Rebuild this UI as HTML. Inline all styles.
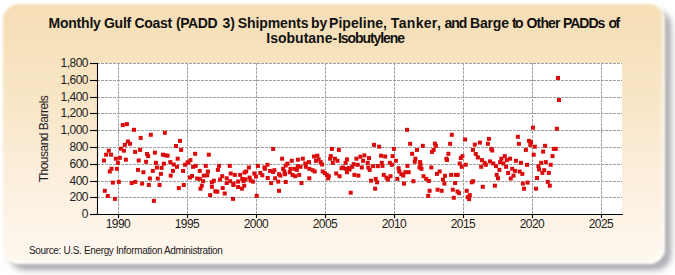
<!DOCTYPE html>
<html><head><meta charset="utf-8"><style>
html,body{margin:0;padding:0;background:#fff;width:675px;height:275px;overflow:hidden;position:relative;font-family:"Liberation Sans",sans-serif;}
.card{position:absolute;left:3px;top:4px;width:662px;height:260px;border-radius:16px;filter:blur(0.9px);
background:linear-gradient(to bottom,#F6DEB6 0%,#F8E5C4 33%,#FCEFDE 68%,#FEF6EC 92%,#FFF8EF 100%);
box-shadow:6px 6px 4px rgba(115,115,122,0.45), 7px 7px 8px rgba(160,160,168,0.3), inset -3px -3px 3px rgba(255,255,255,0.65);}
.t1,.t2{position:absolute;font-weight:bold;font-size:14px;line-height:16px;color:#111;white-space:nowrap;}
.t1{top:15px;}
.t2{top:30px;}
.yl{position:absolute;left:38px;width:50px;text-align:right;font-size:12px;line-height:16px;color:#222;letter-spacing:-0.5px;}
.xl{position:absolute;top:217px;width:40px;text-align:center;font-size:12px;line-height:14px;color:#222;letter-spacing:-0.55px;}
.ylab{position:absolute;left:43.5px;top:138.5px;width:0;height:0;}
.ylab span{position:absolute;transform:translate(-50%,-50%) rotate(-90deg);white-space:nowrap;font-size:12px;letter-spacing:-0.5px;color:#222;}
.src{position:absolute;left:29px;top:245px;font-size:10px;letter-spacing:-0.35px;color:#222;white-space:nowrap;}
svg{position:absolute;left:0;top:0;}
</style></head><body>
<div class="card"></div>
<svg width="675" height="275">
<rect x="97" y="63" width="525" height="151" fill="#fff"/>
<g stroke="#A0A0A0" stroke-width="1" stroke-dasharray="3,1"><line x1="98" y1="197.5" x2="622" y2="197.5" stroke-dashoffset="1"/><line x1="98" y1="181.5" x2="622" y2="181.5" stroke-dashoffset="1"/><line x1="98" y1="164.5" x2="622" y2="164.5" stroke-dashoffset="1"/><line x1="98" y1="147.5" x2="622" y2="147.5" stroke-dashoffset="1"/><line x1="98" y1="130.5" x2="622" y2="130.5" stroke-dashoffset="1"/><line x1="98" y1="113.5" x2="622" y2="113.5" stroke-dashoffset="1"/><line x1="98" y1="97.5" x2="622" y2="97.5" stroke-dashoffset="1"/><line x1="98" y1="80.5" x2="622" y2="80.5" stroke-dashoffset="1"/><line x1="98" y1="63.5" x2="622" y2="63.5" stroke-dashoffset="1"/><line x1="118.5" y1="63" x2="118.5" y2="214"/><line x1="187.5" y1="63" x2="187.5" y2="214"/><line x1="256.5" y1="63" x2="256.5" y2="214"/><line x1="325.5" y1="63" x2="325.5" y2="214"/><line x1="394.5" y1="63" x2="394.5" y2="214"/><line x1="463.5" y1="63" x2="463.5" y2="214"/><line x1="532.5" y1="63" x2="532.5" y2="214"/><line x1="601.5" y1="63" x2="601.5" y2="214"/></g>
<g fill="#DC0A0A"><rect x="120.8" y="123.0" width="4" height="4"/><rect x="124.9" y="122.1" width="4" height="4"/><rect x="132.0" y="127.8" width="4" height="4"/><rect x="138.7" y="135.9" width="4" height="4"/><rect x="148.8" y="132.8" width="4" height="4"/><rect x="162.9" y="130.8" width="4" height="4"/><rect x="178.0" y="138.9" width="4" height="4"/><rect x="174.0" y="144.0" width="4" height="4"/><rect x="179.1" y="147.9" width="4" height="4"/><rect x="125.9" y="139.5" width="4" height="4"/><rect x="128.0" y="141.8" width="4" height="4"/><rect x="122.8" y="142.9" width="4" height="4"/><rect x="119.0" y="146.7" width="4" height="4"/><rect x="121.9" y="148.7" width="4" height="4"/><rect x="133.1" y="149.9" width="4" height="4"/><rect x="138.1" y="147.9" width="4" height="4"/><rect x="106.8" y="148.7" width="4" height="4"/><rect x="104.1" y="152.7" width="4" height="4"/><rect x="109.1" y="152.7" width="4" height="4"/><rect x="102.0" y="158.5" width="4" height="4"/><rect x="113.8" y="156.7" width="4" height="4"/><rect x="117.9" y="155.8" width="4" height="4"/><rect x="115.9" y="160.8" width="4" height="4"/><rect x="123.9" y="157.7" width="4" height="4"/><rect x="145.0" y="152.0" width="4" height="4"/><rect x="146.1" y="154.1" width="4" height="4"/><rect x="152.9" y="150.7" width="4" height="4"/><rect x="160.9" y="152.7" width="4" height="4"/><rect x="165.6" y="153.7" width="4" height="4"/><rect x="175.7" y="156.7" width="4" height="4"/><rect x="136.7" y="158.5" width="4" height="4"/><rect x="144.1" y="159.8" width="4" height="4"/><rect x="153.9" y="160.8" width="4" height="4"/><rect x="161.9" y="161.7" width="4" height="4"/><rect x="168.3" y="160.1" width="4" height="4"/><rect x="171.7" y="162.5" width="4" height="4"/><rect x="175.0" y="164.8" width="4" height="4"/><rect x="183.1" y="162.8" width="4" height="4"/><rect x="109.5" y="166.8" width="4" height="4"/><rect x="107.8" y="169.5" width="4" height="4"/><rect x="114.9" y="166.8" width="4" height="4"/><rect x="136.0" y="167.9" width="4" height="4"/><rect x="141.4" y="170.2" width="4" height="4"/><rect x="154.9" y="165.5" width="4" height="4"/><rect x="159.6" y="165.9" width="4" height="4"/><rect x="150.8" y="168.9" width="4" height="4"/><rect x="158.9" y="171.9" width="4" height="4"/><rect x="171.0" y="168.9" width="4" height="4"/><rect x="181.1" y="168.9" width="4" height="4"/><rect x="168.7" y="173.6" width="4" height="4"/><rect x="147.9" y="176.5" width="4" height="4"/><rect x="155.8" y="176.5" width="4" height="4"/><rect x="110.9" y="180.6" width="4" height="4"/><rect x="116.8" y="179.9" width="4" height="4"/><rect x="129.7" y="181.0" width="4" height="4"/><rect x="133.3" y="179.9" width="4" height="4"/><rect x="140.1" y="181.6" width="4" height="4"/><rect x="146.8" y="183.0" width="4" height="4"/><rect x="157.6" y="183.0" width="4" height="4"/><rect x="176.8" y="186.1" width="4" height="4"/><rect x="181.8" y="183.0" width="4" height="4"/><rect x="102.8" y="188.8" width="4" height="4"/><rect x="105.8" y="194.0" width="4" height="4"/><rect x="112.9" y="196.9" width="4" height="4"/><rect x="151.9" y="198.9" width="4" height="4"/><rect x="271.1" y="146.9" width="4" height="4"/><rect x="193.1" y="151.8" width="4" height="4"/><rect x="206.8" y="152.7" width="4" height="4"/><rect x="188.4" y="158.1" width="4" height="4"/><rect x="191.1" y="164.8" width="4" height="4"/><rect x="193.7" y="163.9" width="4" height="4"/><rect x="203.8" y="163.9" width="4" height="4"/><rect x="217.0" y="163.9" width="4" height="4"/><rect x="227.8" y="163.9" width="4" height="4"/><rect x="197.8" y="168.9" width="4" height="4"/><rect x="205.9" y="169.5" width="4" height="4"/><rect x="215.9" y="167.9" width="4" height="4"/><rect x="190.0" y="174.0" width="4" height="4"/><rect x="201.8" y="173.6" width="4" height="4"/><rect x="205.2" y="173.3" width="4" height="4"/><rect x="195.1" y="176.5" width="4" height="4"/><rect x="197.8" y="176.9" width="4" height="4"/><rect x="201.1" y="179.2" width="4" height="4"/><rect x="209.9" y="180.3" width="4" height="4"/><rect x="211.9" y="178.7" width="4" height="4"/><rect x="218.0" y="177.6" width="4" height="4"/><rect x="220.2" y="174.2" width="4" height="4"/><rect x="224.7" y="176.3" width="4" height="4"/><rect x="228.7" y="171.5" width="4" height="4"/><rect x="232.8" y="172.9" width="4" height="4"/><rect x="228.1" y="179.2" width="4" height="4"/><rect x="224.7" y="181.0" width="4" height="4"/><rect x="231.4" y="181.6" width="4" height="4"/><rect x="236.1" y="179.6" width="4" height="4"/><rect x="238.1" y="172.9" width="4" height="4"/><rect x="240.2" y="176.9" width="4" height="4"/><rect x="243.5" y="177.3" width="4" height="4"/><rect x="247.6" y="175.6" width="4" height="4"/><rect x="250.9" y="179.6" width="4" height="4"/><rect x="244.2" y="169.5" width="4" height="4"/><rect x="246.9" y="165.5" width="4" height="4"/><rect x="252.3" y="171.5" width="4" height="4"/><rect x="255.9" y="163.9" width="4" height="4"/><rect x="258.3" y="170.9" width="4" height="4"/><rect x="260.3" y="173.3" width="4" height="4"/><rect x="262.4" y="165.5" width="4" height="4"/><rect x="265.5" y="162.8" width="4" height="4"/><rect x="268.1" y="168.9" width="4" height="4"/><rect x="272.4" y="168.2" width="4" height="4"/><rect x="265.7" y="176.0" width="4" height="4"/><rect x="273.1" y="176.3" width="4" height="4"/><rect x="269.1" y="181.0" width="4" height="4"/><rect x="199.8" y="183.7" width="4" height="4"/><rect x="198.5" y="186.7" width="4" height="4"/><rect x="209.9" y="184.8" width="4" height="4"/><rect x="208.1" y="193.1" width="4" height="4"/><rect x="213.3" y="189.3" width="4" height="4"/><rect x="215.3" y="189.7" width="4" height="4"/><rect x="220.7" y="186.1" width="4" height="4"/><rect x="222.7" y="191.5" width="4" height="4"/><rect x="231.4" y="183.0" width="4" height="4"/><rect x="236.1" y="185.0" width="4" height="4"/><rect x="239.9" y="186.7" width="4" height="4"/><rect x="242.2" y="183.7" width="4" height="4"/><rect x="231.0" y="196.9" width="4" height="4"/><rect x="254.7" y="193.8" width="4" height="4"/><rect x="329.9" y="146.9" width="4" height="4"/><rect x="336.9" y="147.9" width="4" height="4"/><rect x="280.1" y="156.7" width="4" height="4"/><rect x="289.8" y="158.8" width="4" height="4"/><rect x="295.9" y="157.7" width="4" height="4"/><rect x="300.8" y="156.7" width="4" height="4"/><rect x="312.0" y="154.5" width="4" height="4"/><rect x="315.4" y="153.7" width="4" height="4"/><rect x="316.7" y="157.4" width="4" height="4"/><rect x="314.0" y="158.8" width="4" height="4"/><rect x="318.7" y="160.1" width="4" height="4"/><rect x="320.1" y="162.5" width="4" height="4"/><rect x="307.0" y="160.1" width="4" height="4"/><rect x="303.3" y="161.5" width="4" height="4"/><rect x="285.5" y="161.7" width="4" height="4"/><rect x="283.7" y="163.5" width="4" height="4"/><rect x="281.1" y="166.8" width="4" height="4"/><rect x="282.4" y="169.5" width="4" height="4"/><rect x="277.0" y="172.2" width="4" height="4"/><rect x="278.4" y="173.6" width="4" height="4"/><rect x="283.1" y="172.2" width="4" height="4"/><rect x="288.5" y="166.8" width="4" height="4"/><rect x="292.5" y="166.8" width="4" height="4"/><rect x="295.9" y="164.1" width="4" height="4"/><rect x="298.5" y="164.8" width="4" height="4"/><rect x="294.9" y="167.9" width="4" height="4"/><rect x="287.8" y="170.2" width="4" height="4"/><rect x="290.5" y="172.9" width="4" height="4"/><rect x="293.2" y="174.2" width="4" height="4"/><rect x="297.2" y="172.9" width="4" height="4"/><rect x="303.9" y="164.8" width="4" height="4"/><rect x="307.3" y="166.8" width="4" height="4"/><rect x="310.7" y="168.2" width="4" height="4"/><rect x="312.7" y="169.5" width="4" height="4"/><rect x="307.3" y="176.3" width="4" height="4"/><rect x="320.7" y="169.5" width="4" height="4"/><rect x="322.8" y="171.1" width="4" height="4"/><rect x="324.8" y="172.9" width="4" height="4"/><rect x="326.8" y="174.2" width="4" height="4"/><rect x="326.1" y="176.3" width="4" height="4"/><rect x="328.8" y="154.1" width="4" height="4"/><rect x="328.1" y="156.7" width="4" height="4"/><rect x="332.9" y="156.7" width="4" height="4"/><rect x="335.5" y="158.8" width="4" height="4"/><rect x="330.8" y="160.8" width="4" height="4"/><rect x="345.0" y="157.4" width="4" height="4"/><rect x="343.6" y="160.8" width="4" height="4"/><rect x="339.6" y="166.2" width="4" height="4"/><rect x="343.6" y="166.8" width="4" height="4"/><rect x="347.6" y="167.5" width="4" height="4"/><rect x="350.3" y="164.8" width="4" height="4"/><rect x="351.7" y="162.1" width="4" height="4"/><rect x="354.4" y="156.7" width="4" height="4"/><rect x="358.4" y="154.7" width="4" height="4"/><rect x="362.4" y="153.4" width="4" height="4"/><rect x="361.1" y="158.8" width="4" height="4"/><rect x="355.7" y="162.8" width="4" height="4"/><rect x="359.8" y="165.5" width="4" height="4"/><rect x="334.2" y="171.5" width="4" height="4"/><rect x="337.6" y="174.2" width="4" height="4"/><rect x="345.0" y="170.2" width="4" height="4"/><rect x="352.4" y="172.9" width="4" height="4"/><rect x="356.4" y="173.6" width="4" height="4"/><rect x="276.3" y="179.6" width="4" height="4"/><rect x="283.7" y="180.0" width="4" height="4"/><rect x="299.5" y="181.0" width="4" height="4"/><rect x="277.0" y="188.8" width="4" height="4"/><rect x="348.7" y="190.7" width="4" height="4"/><rect x="405.0" y="127.8" width="4" height="4"/><rect x="449.8" y="132.8" width="4" height="4"/><rect x="372.0" y="142.9" width="4" height="4"/><rect x="377.1" y="144.7" width="4" height="4"/><rect x="391.9" y="146.9" width="4" height="4"/><rect x="408.1" y="141.8" width="4" height="4"/><rect x="415.0" y="147.9" width="4" height="4"/><rect x="420.8" y="143.8" width="4" height="4"/><rect x="432.9" y="141.6" width="4" height="4"/><rect x="433.9" y="143.8" width="4" height="4"/><rect x="431.6" y="147.9" width="4" height="4"/><rect x="430.0" y="149.9" width="4" height="4"/><rect x="448.1" y="141.8" width="4" height="4"/><rect x="410.1" y="151.8" width="4" height="4"/><rect x="446.4" y="151.8" width="4" height="4"/><rect x="444.4" y="156.7" width="4" height="4"/><rect x="379.1" y="153.7" width="4" height="4"/><rect x="383.2" y="154.5" width="4" height="4"/><rect x="390.6" y="154.1" width="4" height="4"/><rect x="367.0" y="156.1" width="4" height="4"/><rect x="365.7" y="160.8" width="4" height="4"/><rect x="366.3" y="165.5" width="4" height="4"/><rect x="367.7" y="167.9" width="4" height="4"/><rect x="371.1" y="164.1" width="4" height="4"/><rect x="375.8" y="164.1" width="4" height="4"/><rect x="379.8" y="160.8" width="4" height="4"/><rect x="380.5" y="163.9" width="4" height="4"/><rect x="387.9" y="160.8" width="4" height="4"/><rect x="389.9" y="162.8" width="4" height="4"/><rect x="393.9" y="158.8" width="4" height="4"/><rect x="413.4" y="156.7" width="4" height="4"/><rect x="412.8" y="159.8" width="4" height="4"/><rect x="418.1" y="160.1" width="4" height="4"/><rect x="417.5" y="165.5" width="4" height="4"/><rect x="419.5" y="166.8" width="4" height="4"/><rect x="405.4" y="163.9" width="4" height="4"/><rect x="396.6" y="166.2" width="4" height="4"/><rect x="397.3" y="169.5" width="4" height="4"/><rect x="399.3" y="172.2" width="4" height="4"/><rect x="401.3" y="173.6" width="4" height="4"/><rect x="403.3" y="170.2" width="4" height="4"/><rect x="406.7" y="170.2" width="4" height="4"/><rect x="429.3" y="165.5" width="4" height="4"/><rect x="437.6" y="169.5" width="4" height="4"/><rect x="435.0" y="171.9" width="4" height="4"/><rect x="443.0" y="173.8" width="4" height="4"/><rect x="449.1" y="172.9" width="4" height="4"/><rect x="453.8" y="172.9" width="4" height="4"/><rect x="381.8" y="172.9" width="4" height="4"/><rect x="384.5" y="175.6" width="4" height="4"/><rect x="388.5" y="174.2" width="4" height="4"/><rect x="385.9" y="177.6" width="4" height="4"/><rect x="369.0" y="178.7" width="4" height="4"/><rect x="373.7" y="176.9" width="4" height="4"/><rect x="375.1" y="180.3" width="4" height="4"/><rect x="395.3" y="176.9" width="4" height="4"/><rect x="402.0" y="181.6" width="4" height="4"/><rect x="411.4" y="179.2" width="4" height="4"/><rect x="421.5" y="174.2" width="4" height="4"/><rect x="424.2" y="176.9" width="4" height="4"/><rect x="426.9" y="178.9" width="4" height="4"/><rect x="441.0" y="177.6" width="4" height="4"/><rect x="442.4" y="181.6" width="4" height="4"/><rect x="453.1" y="181.0" width="4" height="4"/><rect x="373.1" y="186.7" width="4" height="4"/><rect x="427.6" y="188.8" width="4" height="4"/><rect x="435.6" y="187.7" width="4" height="4"/><rect x="439.7" y="188.8" width="4" height="4"/><rect x="450.8" y="187.7" width="4" height="4"/><rect x="426.2" y="193.8" width="4" height="4"/><rect x="451.8" y="195.8" width="4" height="4"/><rect x="531.0" y="125.7" width="4" height="4"/><rect x="463.1" y="137.5" width="4" height="4"/><rect x="472.8" y="142.6" width="4" height="4"/><rect x="477.9" y="140.6" width="4" height="4"/><rect x="470.9" y="147.9" width="4" height="4"/><rect x="486.9" y="136.9" width="4" height="4"/><rect x="485.9" y="141.8" width="4" height="4"/><rect x="489.3" y="146.9" width="4" height="4"/><rect x="490.2" y="148.5" width="4" height="4"/><rect x="515.9" y="134.8" width="4" height="4"/><rect x="516.9" y="141.8" width="4" height="4"/><rect x="527.0" y="138.9" width="4" height="4"/><rect x="529.0" y="140.0" width="4" height="4"/><rect x="528.3" y="142.9" width="4" height="4"/><rect x="532.8" y="144.7" width="4" height="4"/><rect x="523.9" y="147.9" width="4" height="4"/><rect x="541.1" y="149.6" width="4" height="4"/><rect x="543.1" y="143.8" width="4" height="4"/><rect x="460.4" y="154.1" width="4" height="4"/><rect x="458.8" y="156.1" width="4" height="4"/><rect x="457.7" y="161.5" width="4" height="4"/><rect x="459.7" y="164.8" width="4" height="4"/><rect x="463.7" y="162.8" width="4" height="4"/><rect x="455.7" y="172.9" width="4" height="4"/><rect x="473.8" y="152.0" width="4" height="4"/><rect x="475.9" y="155.4" width="4" height="4"/><rect x="479.9" y="158.1" width="4" height="4"/><rect x="482.6" y="160.8" width="4" height="4"/><rect x="479.2" y="164.8" width="4" height="4"/><rect x="483.9" y="162.8" width="4" height="4"/><rect x="488.0" y="159.4" width="4" height="4"/><rect x="491.3" y="161.5" width="4" height="4"/><rect x="494.0" y="164.1" width="4" height="4"/><rect x="497.4" y="167.9" width="4" height="4"/><rect x="498.1" y="160.1" width="4" height="4"/><rect x="499.4" y="156.7" width="4" height="4"/><rect x="502.8" y="154.1" width="4" height="4"/><rect x="501.4" y="161.5" width="4" height="4"/><rect x="504.1" y="164.8" width="4" height="4"/><rect x="508.1" y="156.7" width="4" height="4"/><rect x="504.8" y="158.1" width="4" height="4"/><rect x="513.9" y="158.8" width="4" height="4"/><rect x="518.9" y="160.8" width="4" height="4"/><rect x="525.0" y="162.8" width="4" height="4"/><rect x="531.7" y="152.7" width="4" height="4"/><rect x="494.7" y="172.9" width="4" height="4"/><rect x="496.0" y="176.3" width="4" height="4"/><rect x="506.1" y="170.9" width="4" height="4"/><rect x="510.2" y="166.8" width="4" height="4"/><rect x="512.9" y="168.9" width="4" height="4"/><rect x="511.5" y="173.6" width="4" height="4"/><rect x="508.8" y="176.5" width="4" height="4"/><rect x="517.6" y="169.5" width="4" height="4"/><rect x="520.3" y="171.9" width="4" height="4"/><rect x="471.1" y="179.2" width="4" height="4"/><rect x="469.8" y="180.3" width="4" height="4"/><rect x="520.9" y="181.6" width="4" height="4"/><rect x="525.6" y="180.6" width="4" height="4"/><rect x="535.0" y="176.0" width="4" height="4"/><rect x="536.4" y="164.1" width="4" height="4"/><rect x="537.1" y="167.5" width="4" height="4"/><rect x="539.1" y="160.8" width="4" height="4"/><rect x="540.4" y="170.9" width="4" height="4"/><rect x="542.2" y="168.2" width="4" height="4"/><rect x="543.8" y="160.1" width="4" height="4"/><rect x="455.5" y="189.5" width="4" height="4"/><rect x="457.0" y="191.1" width="4" height="4"/><rect x="464.7" y="188.8" width="4" height="4"/><rect x="467.8" y="193.1" width="4" height="4"/><rect x="465.8" y="195.1" width="4" height="4"/><rect x="467.1" y="197.1" width="4" height="4"/><rect x="480.8" y="184.8" width="4" height="4"/><rect x="492.9" y="183.7" width="4" height="4"/><rect x="522.0" y="186.7" width="4" height="4"/><rect x="534.0" y="186.7" width="4" height="4"/><rect x="556.0" y="76.0" width="4" height="4"/><rect x="557.0" y="98.0" width="4" height="4"/><rect x="554.9" y="126.8" width="4" height="4"/><rect x="551.8" y="146.9" width="4" height="4"/><rect x="553.8" y="146.9" width="4" height="4"/><rect x="550.5" y="154.1" width="4" height="4"/><rect x="548.7" y="162.8" width="4" height="4"/><rect x="546.8" y="170.9" width="4" height="4"/><rect x="545.8" y="179.9" width="4" height="4"/><rect x="547.8" y="183.7" width="4" height="4"/><rect x="186.5" y="160.5" width="4" height="4"/><rect x="242.5" y="170.5" width="4" height="4"/><rect x="254.0" y="174.5" width="4" height="4"/><rect x="263.0" y="166.8" width="4" height="4"/><rect x="271.0" y="170.0" width="4" height="4"/><rect x="241.5" y="179.0" width="4" height="4"/><rect x="248.5" y="178.5" width="4" height="4"/><rect x="188.0" y="175.5" width="4" height="4"/><rect x="185.5" y="160.5" width="4" height="4"/><rect x="163.5" y="153.3" width="4" height="4"/><rect x="341.0" y="165.5" width="4" height="4"/><rect x="347.0" y="166.0" width="4" height="4"/><rect x="418.5" y="162.8" width="4" height="4"/><rect x="445.0" y="158.0" width="4" height="4"/></g>
<g stroke="#000" stroke-width="1.1"><line x1="90" y1="214.5" x2="98" y2="214.5"/><line x1="90" y1="197.5" x2="98" y2="197.5"/><line x1="90" y1="181.5" x2="98" y2="181.5"/><line x1="90" y1="164.5" x2="98" y2="164.5"/><line x1="90" y1="147.5" x2="98" y2="147.5"/><line x1="90" y1="130.5" x2="98" y2="130.5"/><line x1="90" y1="113.5" x2="98" y2="113.5"/><line x1="90" y1="97.5" x2="98" y2="97.5"/><line x1="90" y1="80.5" x2="98" y2="80.5"/><line x1="90" y1="63.5" x2="98" y2="63.5"/><line x1="118.5" y1="214" x2="118.5" y2="218"/><line x1="187.5" y1="214" x2="187.5" y2="218"/><line x1="256.5" y1="214" x2="256.5" y2="218"/><line x1="325.5" y1="214" x2="325.5" y2="218"/><line x1="394.5" y1="214" x2="394.5" y2="218"/><line x1="463.5" y1="214" x2="463.5" y2="218"/><line x1="532.5" y1="214" x2="532.5" y2="218"/><line x1="601.5" y1="214" x2="601.5" y2="218"/>
<line x1="97.5" y1="63" x2="97.5" y2="215"/>
<line x1="97" y1="214.5" x2="623" y2="214.5"/></g>
</svg>
<span class="t1" style="left:48.5px;letter-spacing:-0.22px">Monthly</span><span class="t1" style="left:103.9px;letter-spacing:-0.20px">Gulf</span><span class="t1" style="left:134.4px;letter-spacing:-0.30px">Coast</span><span class="t1" style="left:175.9px;letter-spacing:-0.40px">(PADD</span><span class="t1" style="left:222.4px;letter-spacing:0.00px">3)</span><span class="t1" style="left:237.8px;letter-spacing:-0.11px">Shipments</span><span class="t1" style="left:311.0px;letter-spacing:-0.10px">by</span><span class="t1" style="left:329.0px;letter-spacing:0.05px">Pipeline,</span><span class="t1" style="left:390.8px;letter-spacing:0.33px">Tanker,</span><span class="t1" style="left:444.5px;letter-spacing:-1.00px">and</span><span class="t1" style="left:470.1px;letter-spacing:-0.20px">Barge</span><span class="t1" style="left:512.1px;letter-spacing:-1.70px">to</span><span class="t1" style="left:526.5px;letter-spacing:-0.83px">Other</span><span class="t1" style="left:562.9px;letter-spacing:-1.00px">PADDs</span><span class="t1" style="left:608.6px;letter-spacing:-1.60px">of</span>
<span class="t2" style="left:266.3px;letter-spacing:0.00px">Isobutane-</span><span class="t2" style="left:337.9px;letter-spacing:-1.06px">Isobutylene</span>
<div class="yl" style="top:206px">0</div><div class="yl" style="top:189px">200</div><div class="yl" style="top:173px">400</div><div class="yl" style="top:156px">600</div><div class="yl" style="top:139px">800</div><div class="yl" style="top:122px">1,000</div><div class="yl" style="top:105px">1,200</div><div class="yl" style="top:89px">1,400</div><div class="yl" style="top:72px">1,600</div><div class="yl" style="top:55px">1,800</div><div class="xl" style="left:98px">1990</div><div class="xl" style="left:167px">1995</div><div class="xl" style="left:236px">2000</div><div class="xl" style="left:305px">2005</div><div class="xl" style="left:374px">2010</div><div class="xl" style="left:443px">2015</div><div class="xl" style="left:512px">2020</div><div class="xl" style="left:581px">2025</div>
<div class="ylab"><span>Thousand Barrels</span></div>
<div class="src">Source: U.S. Energy Information Administration</div>
</body></html>
